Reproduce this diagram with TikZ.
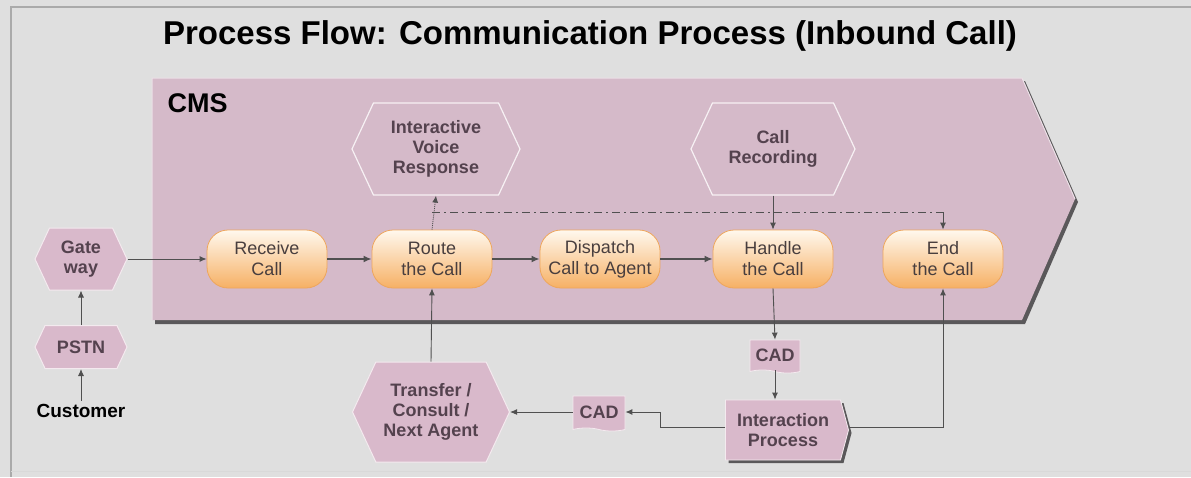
\documentclass[tikz,border=0pt]{standalone}
\usepackage{fontspec}
\setmainfont{Liberation Sans}
\usetikzlibrary{shapes.symbols,shapes.misc,arrows.meta,shadows}

\definecolor{bgc}{RGB}{223,223,223}
\definecolor{framec}{RGB}{170,170,170}
\definecolor{cmsfill}{RGB}{213,186,201}
\definecolor{cmsshadow}{RGB}{90,88,90}
\definecolor{pinknode}{RGB}{217,185,203}
\definecolor{txt}{RGB}{84,66,78}
\definecolor{pilltxt}{RGB}{72,62,62}
\definecolor{linec}{RGB}{80,80,80}
\definecolor{pilltop}{RGB}{255,248,238}
\definecolor{pillbot}{RGB}{246,176,100}
\definecolor{pillrim}{RGB}{238,166,92}

\tikzset{
  pill/.style={rectangle, rounded corners=21pt, minimum width=120pt,
    minimum height=58pt, top color=pilltop, bottom color=pillbot,
    draw=pillrim, line width=0.8pt, text=pilltxt, align=center,
    font=\fontsize{18}{21}\selectfont},
  hexline/.style={signal, signal to=west and east, signal pointer angle=130,
    draw=white!80!cmsfill, line width=1.2pt, text=txt, align=center,
    font=\bfseries\fontsize{18}{20}\selectfont},
  hexfill/.style={signal, signal to=west and east, signal pointer angle=130,
    fill=pinknode, draw=white!70!pinknode, line width=1pt, text=txt,
    align=center, font=\bfseries\fontsize{18}{20}\selectfont},
  cadbox/.style={tape, tape bend top=none, tape bend bottom=out and in,
    tape bend height=3pt, fill=pinknode, draw=white!70!pinknode,
    line width=0.8pt, text=txt, inner sep=3pt,
    font=\bfseries\fontsize{18}{20}\selectfont},
  procbox/.style={signal, signal to=east, signal pointer angle=150,
    fill=pinknode, draw=white!70!pinknode, line width=0.8pt, text=txt,
    align=center, font=\bfseries\fontsize{18}{20}\selectfont,
    drop shadow={shadow xshift=3pt, shadow yshift=-3pt, fill=cmsshadow, opacity=1}},
  conn/.style={draw=linec, line width=0.9pt, -{Latex[length=7pt,width=6pt]}},
  mainconn/.style={draw=linec, line width=2pt, -{Latex[length=8pt,width=7pt]}},
  dashdotted conn/.style={draw=linec, line width=1pt,
    dash pattern=on 8pt off 4pt on 2pt off 4pt},
}

\begin{document}
\begin{tikzpicture}[x=1pt,y=-1pt]
  % canvas and frame
  \fill[bgc] (0,0) rectangle (1191,477);
  \useasboundingbox (0,0) rectangle (1191,477);
  \draw[framec, line width=1.6pt] (1191,7) -- (11,7) -- (11,477);
  \draw[black!15, line width=0.8pt] (11,471) -- (1191,471);

  % title
  \node[font=\bfseries\fontsize{33}{36}\selectfont] (title) at (590,36)
    {Process Flow: Communication Process (Inbound Call)};

  % CMS swimlane (chevron with shadow)
  \fill[cmsshadow] (155,81) -- (1025,81) -- (1078,202) -- (1025,324) -- (155,324) -- cycle;
  \fill[cmsfill] (152,78) -- (1022,78) -- (1075,199) -- (1022,320) -- (152,320) -- cycle;
  \draw[white!55!cmsfill, line width=1pt] (152,320) -- (152,78) -- (1022,78) -- (1075,199);
  \node[font=\bfseries\fontsize{27}{30}\selectfont, anchor=west] (cms) at (164,103) {CMS};

  % systems inside CMS
  \node[hexline, minimum width=168pt, minimum height=92pt] (ivr) at (436,149)
    {Interactive\\Voice\\Response};
  \node[hexline, minimum width=164pt, minimum height=92pt] (rec) at (773,149)
    {Call\\Recording};

  % process steps
  \node[pill] (recv)   at (267,259) {Receive\\Call};
  \node[pill] (route)  at (432,259) {Route\\the Call};
  \node[pill] (disp)   at (600,259) {Dispatch\\Call to Agent};
  \node[pill] (handle) at (773,259) {Handle\\the Call};
  \node[pill] (endc)   at (943,259) {End\\the Call};

  % entry side
  \node[hexfill, minimum width=92pt, minimum height=62pt] (gate) at (81,259) {Gate\\way};
  \node[hexfill, minimum width=92pt, minimum height=43pt] (pstn) at (81,347) {PSTN};
  \node[font=\bfseries\fontsize{19}{21}\selectfont] (cust) at (81,411) {Customer};

  % agent side
  \node[cadbox, minimum width=50pt, minimum height=33pt] (cad1) at (775,355) {CAD};
  \node[procbox, minimum width=123pt, minimum height=60pt] (ip) at (783,430)
    {Interaction\\Process};
  \node[cadbox, minimum width=52pt, minimum height=35pt] (cad2) at (599,412) {CAD};
  \node[hexfill, minimum width=157pt, minimum height=100pt] (xfer) at (431,412)
    {Transfer /\\Consult /\\Next Agent};

  % connectors
  \draw[conn] (cust.north) -- (pstn.south);
  \draw[conn] (pstn.north) -- (gate.south);
  \draw[conn] (gate.east) -- (recv.west);
  \draw[mainconn] (recv.east) -- (route.west);
  \draw[mainconn] (route.east) -- (disp.west);
  \draw[mainconn] (disp.east) -- (handle.west);
  \draw[conn, densely dotted] (route.north) -- (ivr.south);
  \draw[dashdotted conn] (route.north |- 0,212) -- (endc.north |- 0,212);
  \draw[conn] (endc.north |- 0,212) -- (endc.north);
  \draw[conn] (rec.south) -- (handle.north);
  \draw[conn] (handle.south) -- (cad1.north);
  \draw[conn] (cad1.south) -- (cad1.south |- ip.north);
  \draw[conn] (ip.west |- 0,427) -- ++(-65,0) |- (cad2.east);
  \draw[conn] (cad2.west) -- (xfer.east);
  \draw[conn] (xfer.north) -- (route.south);
  \draw[conn] (ip.east |- 0,427) -| (endc.south);
\end{tikzpicture}
\end{document}
